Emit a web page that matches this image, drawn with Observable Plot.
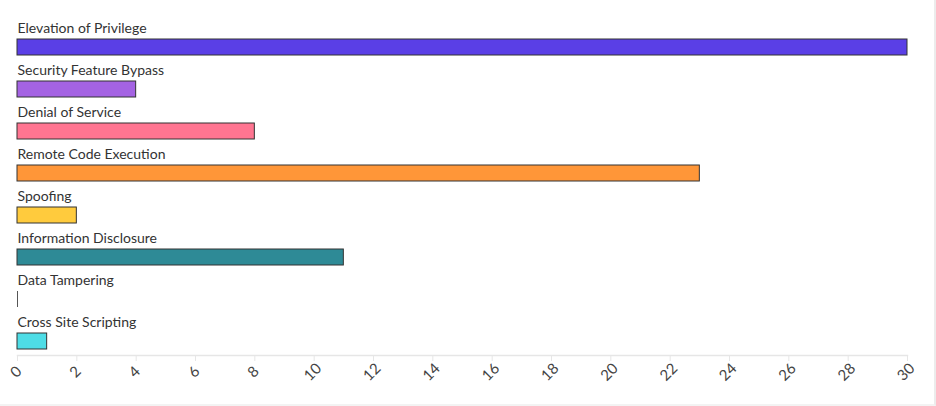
<!DOCTYPE html>
<html>
<head>
<meta charset="utf-8">
<script src="https://cdn.jsdelivr.net/npm/d3@7"></script>
<script src="https://cdn.jsdelivr.net/npm/@observablehq/plot@0.6"></script>
<style>
  html, body { margin: 0; padding: 0; background: #fff; }
  #chart { width: 934px; height: 404px; border-right: 2px solid #ececec; border-bottom: 2px solid #f3f3f3; overflow: hidden; }
  svg { display: block; }
</style>
</head>
<body>
<div id="chart"></div>
<script>
const categories = ["Elevation of Privilege", "Security Feature Bypass", "Denial of Service", "Remote Code Execution", "Spoofing", "Information Disclosure", "Data Tampering", "Cross Site Scripting"];
const values = [30, 4, 8, 23, 2, 11, 0, 1];
const colors = ["#5a3fe6", "#a463e3", "#ff7591", "#ff9638", "#ffcb3d", "#2e8a96", "#cccccc", "#4edde6"];
const xTicks = [0, 2, 4, 6, 8, 10, 12, 14, 16, 18, 20, 22, 24, 26, 28, 30];

const data = categories.map((c, i) => ({category: c, value: values[i], color: colors[i]}));

const chart = Plot.plot({
  width: 934,
  height: 404,
  marginLeft: 17,
  marginRight: 27,
  marginTop: 37,
  marginBottom: 49,
  style: {fontFamily: "Lato, 'Open Sans', sans-serif", fontSize: "14px", color: "#333", background: "#fff"},
  x: {domain: [0, 30], ticks: xTicks},
  y: {domain: categories, paddingInner: 0.623, paddingOuter: 0, insetBottom: 5, axis: null},
  marks: [
    Plot.frame({anchor: "bottom", stroke: "#e6e6e6", strokeWidth: 1.5}),
    Plot.axisX(xTicks, {tickSize: 6, stroke: "#e6e6e6", strokeOpacity: 1, tickFormat: () => "", label: null}),
    Plot.text(xTicks, {x: d => d, frameAnchor: "bottom", dy: 20, dx: 2, rotate: -45, text: d => String(d), fill: "#444", fontSize: 15}),
    Plot.barX(data, {x: "value", y: "category", fill: "color", stroke: "#333", strokeWidth: 1}),
    Plot.tickX(data.filter(d => d.value === 0), {x: "value", y: "category", stroke: "#555", strokeWidth: 1}),
    Plot.text(data, {x: 0, y: "category", text: "category", textAnchor: "start", dy: -19, fill: "#333", fontSize: 14})
  ]
});
document.getElementById("chart").appendChild(chart);
</script>
</body>
</html>
